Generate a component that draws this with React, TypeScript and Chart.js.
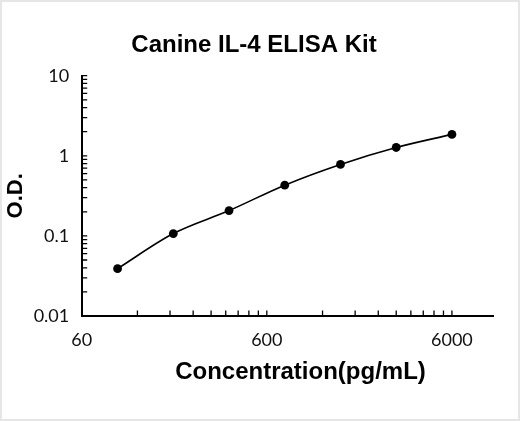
import React, { useEffect, useRef } from "react";
import { Chart, registerables } from "chart.js";

Chart.register(...registerables);

// ---- data ----
const concentrations = [93.75, 187.5, 375, 750, 1500, 3000, 6000];
const odValues = [0.039, 0.107, 0.207, 0.43, 0.78, 1.27, 1.85];
const xTickLabels = [60, 600, 6000];
const yTickLabels = [0.01, 0.1, 1, 10];
const minorMultipliers = [2, 3, 4, 5, 6, 7, 8, 9, 10];
const xMin = 60;
const xMax = 10000;
const yMin = 0.01;
const yMax = 10;

const chartTitle = "Canine IL-4 ELISA Kit";
const xTitle = "Concentration(pg/mL)";
const yTitle = "O.D.";

const minorTicksPlugin = {
  id: "minorTicks",
  afterDraw(chart: any) {
    const { ctx, chartArea } = chart;
    const x = chart.scales.x;
    const y = chart.scales.y;
    ctx.save();
    ctx.strokeStyle = "#000";
    ctx.lineWidth = 1.3;
    ctx.beginPath();
    // x-axis minor ticks (pointing up into the plot)
    xTickLabels.forEach((d) => {
      minorMultipliers.forEach((k) => {
        const v = d * k;
        if (v > xMax) return;
        const px = x.getPixelForValue(v);
        ctx.moveTo(px, chartArea.bottom);
        ctx.lineTo(px, chartArea.bottom - 5.5);
      });
    });
    // y-axis minor ticks (pointing right into the plot)
    yTickLabels.forEach((d) => {
      minorMultipliers.forEach((k) => {
        const v = d * k;
        if (v > yMax + 1e-9) return;
        const py = y.getPixelForValue(v);
        ctx.moveTo(chartArea.left, py);
        ctx.lineTo(chartArea.left + 5.5, py);
      });
    });
    ctx.stroke();

    // x-axis title
    ctx.fillStyle = "#000";
    ctx.font = "bold 24px 'Liberation Sans', Arial, sans-serif";
    ctx.textAlign = "center";
    ctx.textBaseline = "middle";
    ctx.fillText(xTitle, 300.5, 372);
    ctx.restore();
  },
};

export default function App() {
  const canvasRef = useRef<HTMLCanvasElement | null>(null);

  useEffect(() => {
    document.body.style.margin = "0";
    const canvas = canvasRef.current;
    if (!canvas) return;

    const chart = new Chart(canvas, {
      type: "line",
      data: {
        datasets: [
          {
            data: concentrations.map((c, i) => ({ x: c, y: odValues[i] })),
            borderColor: "#000",
            borderWidth: 1.6,
            pointRadius: 4.4,
            pointBackgroundColor: "#000",
            pointBorderColor: "#000",
            pointBorderWidth: 0,
            cubicInterpolationMode: "monotone",
            fill: false,
          },
        ],
      },
      options: {
        animation: false,
        responsive: false,
        devicePixelRatio: 1,
        layout: { padding: { left: 15, right: 27, top: 0, bottom: 0 } },
        plugins: {
          legend: { display: false },
          tooltip: { enabled: false },
          title: {
            display: true,
            text: chartTitle,
            color: "#000",
            font: { family: "'Liberation Sans', Arial, sans-serif", size: 24, weight: "bold" },
            padding: { top: 30.6, bottom: 16.3 },
          },
        },
        scales: {
          x: {
            type: "logarithmic",
            min: xMin,
            max: xMax,
            afterBuildTicks: (scale: any) => {
              scale.ticks = xTickLabels.map((v) => ({ value: v }));
            },
            afterFit: (scale: any) => {
              scale.height = 105;
            },
            grid: { display: true, drawOnChartArea: false, drawTicks: false },
            border: { display: true, color: "#000", width: 2 },
            ticks: {
              autoSkip: false,
              maxRotation: 0,
              padding: 13.7,
              color: "#111",
              font: { family: "Lato, 'Open Sans', sans-serif", size: 18 },
              callback: (v: any) => String(v),
            },
            title: { display: false },
          },
          y: {
            type: "logarithmic",
            min: yMin,
            max: yMax,
            afterBuildTicks: (scale: any) => {
              scale.ticks = yTickLabels.map((v) => ({ value: v }));
            },
            afterFit: (scale: any) => {
              scale.width = 66.7;
            },
            grid: { display: true, drawOnChartArea: false, drawTicks: false },
            border: { display: true, color: "#000", width: 2 },
            ticks: {
              autoSkip: false,
              padding: 12.5,
              color: "#111",
              font: { family: "Lato, 'Open Sans', sans-serif", size: 18 },
              callback: (v: any) => String(v),
            },
            title: {
              display: true,
              text: yTitle,
              color: "#000",
              font: { family: "'Liberation Sans', Arial, sans-serif", size: 22, weight: "bold" },
              padding: { top: -12, bottom: 0 },
            },
          },
        },
      },
      plugins: [minorTicksPlugin],
    } as any);

    return () => chart.destroy();
  }, []);

  return (
    <div style={{ position: "relative", width: 520, height: 421, background: "#fff" }}>
      <canvas ref={canvasRef} width={520} height={421} style={{ display: "block", width: 520, height: 421 }} />
      <div
        style={{
          position: "absolute",
          inset: 0,
          border: "2px solid #e6e6e6",
          pointerEvents: "none",
        }}
      />
    </div>
  );
}
